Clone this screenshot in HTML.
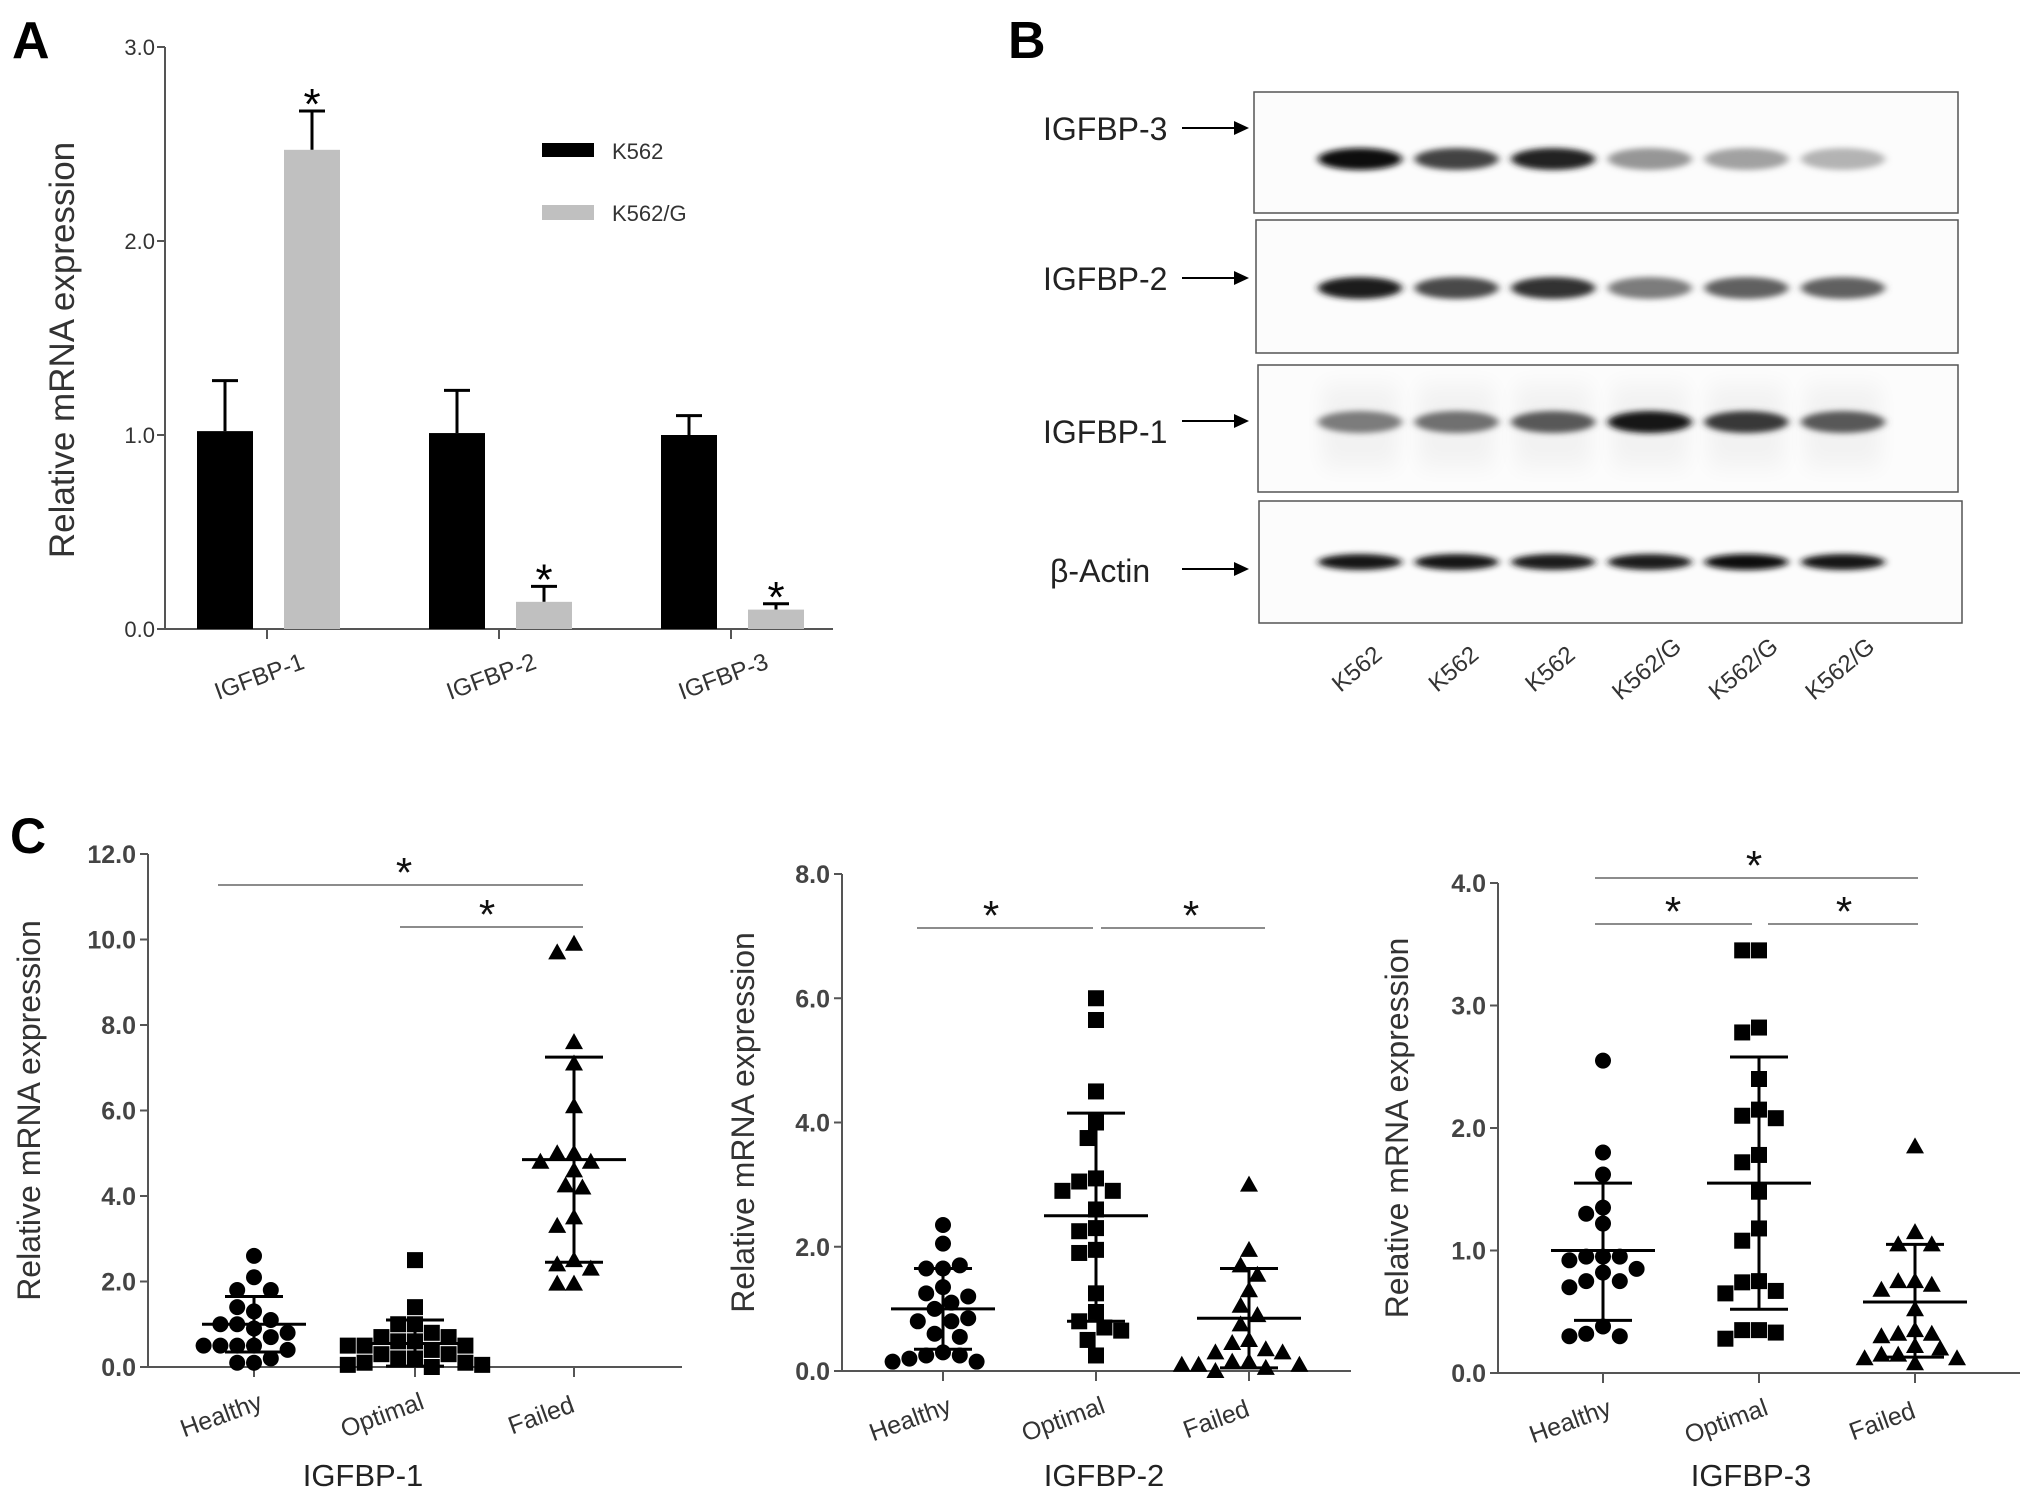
<!DOCTYPE html>
<html><head><meta charset="utf-8"><style>
html,body{margin:0;padding:0;background:#fff}
svg{display:block}
text{font-family:"Liberation Sans",Arial,sans-serif}
</style></head><body>
<svg id="fig" width="2031" height="1495" viewBox="0 0 2031 1495" xmlns="http://www.w3.org/2000/svg">
<defs>
<filter id="blur" x="-30%" y="-100%" width="160%" height="300%"><feGaussianBlur stdDeviation="4 3"/></filter>
<filter id="blur2" x="-30%" y="-100%" width="160%" height="300%"><feGaussianBlur stdDeviation="10 12"/></filter>
</defs>
<text x="12" y="58" font-size="52" font-weight="bold">A</text>
<text x="1008" y="58" font-size="52" font-weight="bold">B</text>
<text x="10" y="853" font-size="50" font-weight="bold">C</text>
<g id="pa"></g>
<g id="pb"></g>
<g id="pc1"></g>
<g id="pc2"></g>
<g id="pc3"></g>
</svg>
<script>
// ---------- Panel A data ----------
const aCategories = ["IGFBP-1","IGFBP-2","IGFBP-3"];
const aK562 = [1.02, 1.01, 1.0];
const aK562Err = [1.28, 1.23, 1.10];
const aK562G = [2.47, 0.14, 0.10];
const aK562GErr = [2.67, 0.22, 0.13];
const aTicks = ["0.0","1.0","2.0","3.0"];
const aSig = [true, true, true];

// ---------- Panel B data ----------
const bProteins = ["IGFBP-3","IGFBP-2","IGFBP-1","β-Actin"];
const bLanes = ["K562","K562","K562","K562/G","K562/G","K562/G"];
const bInt3 = [1.0, 0.75, 0.9, 0.38, 0.33, 0.25];
const bInt2 = [0.92, 0.72, 0.82, 0.5, 0.62, 0.62];
const bInt1 = [0.5, 0.55, 0.65, 0.95, 0.8, 0.65];
const bIntA = [0.95, 0.95, 0.93, 0.93, 0.98, 0.95];

// ---------- Panel C data ----------
const cGroups = ["Healthy","Optimal","Failed"];
const c1Healthy = [2.6,2.1,1.8,1.8,1.3,1.4,1.1,1.0,1.0,0.9,0.8,0.7,0.5,0.5,0.5,0.5,0.4,0.2,0.1,0.1];
const c1Optimal = [2.5,1.4,1.0,1.0,0.8,0.7,0.7,0.6,0.6,0.5,0.5,0.5,0.4,0.3,0.3,0.2,0.2,0.1,0.1,0.05,0.05,0.0];
const c1Failed = [9.9,9.7,7.6,7.1,6.1,5.0,5.0,4.8,4.8,4.6,4.25,4.2,3.5,3.3,2.5,2.4,2.3,1.95,1.95];
const c1Mean = [1.0,0.55,4.85];
const c1Hi = [1.65,1.1,7.25];
const c1Lo = [0.35,0.02,2.45];
const c1Ticks = ["0.0","2.0","4.0","6.0","8.0","10.0","12.0"];

const c2Healthy = [2.35,2.05,1.65,1.65,1.7,1.35,1.25,1.1,1.2,1.0,0.8,0.8,0.85,0.6,0.55,0.3,0.25,0.25,0.2,0.15,0.15];
const c2Optimal = [6.0,5.65,4.5,4.0,3.75,3.1,3.05,2.9,2.9,2.6,2.3,2.25,1.95,1.9,1.25,0.95,0.8,0.7,0.65,0.5,0.25];
const c2Failed = [3.0,1.95,1.7,1.55,1.3,1.05,0.9,0.75,0.5,0.45,0.35,0.3,0.3,0.15,0.15,0.1,0.1,0.1,0.05,0.0];
const c2Mean = [1.0,2.5,0.85];
const c2Hi = [1.65,4.15,1.65];
const c2Lo = [0.35,0.8,0.05];
const c2Ticks = ["0.0","2.0","4.0","6.0","8.0"];

const c3Healthy = [2.55,1.8,1.62,1.35,1.3,1.22,0.95,0.95,0.95,0.92,0.85,0.82,0.75,0.75,0.7,0.38,0.32,0.3,0.3];
const c3Optimal = [3.45,3.45,2.82,2.78,2.4,2.15,2.1,2.08,1.78,1.72,1.48,1.18,1.08,0.75,0.74,0.67,0.65,0.35,0.35,0.33,0.28];
const c3Failed = [1.85,1.15,1.05,1.05,0.75,0.75,0.72,0.68,0.52,0.35,0.32,0.32,0.3,0.22,0.2,0.15,0.15,0.12,0.12,0.08];
const c3Mean = [1.0,1.55,0.58];
const c3Hi = [1.55,2.58,1.05];
const c3Lo = [0.43,0.52,0.13];
const c3Ticks = ["0.0","1.0","2.0","3.0","4.0"];

const NS="http://www.w3.org/2000/svg";
function mk(parent, tag, attrs, txt){
  const e=document.createElementNS(NS,tag);
  for(const k in attrs) e.setAttribute(k, attrs[k]);
  if(txt!==undefined) e.textContent=txt;
  parent.appendChild(e); return e;
}

// ---------- Panel A ----------
(function(){
  const g=document.getElementById('pa');
  const x0=165, yTop=47, yBot=629, xEnd=833, vMax=3;
  const y=v=>yBot-(v/vMax)*(yBot-yTop);
  const groupCenter=i=>267+i*232;
  const ax=mk(g,'path',{d:`M${x0},${yTop} V${yBot} H${xEnd}`,stroke:'#555','stroke-width':2,fill:'none'});
  
  
  aTicks.forEach((t,i)=>{
    const v=parseFloat(t);
    const tk=mk(g,'line',{x1:x0-8,x2:x0,y1:y(v),y2:y(v),stroke:'#555','stroke-width':2});
    
    
    const tl=mk(g,'text',{x:x0-10,y:y(v)+8,'font-size':22,'text-anchor':'end',fill:'#333'},t);
    
    
  });
  aCategories.forEach((c,i)=>{
    const cx=groupCenter(i);
    const tk=mk(g,'line',{x1:cx,x2:cx,y1:yBot,y2:yBot+10,stroke:'#555','stroke-width':2});
    
    
    const tl=mk(g,'text',{x:cx-5,y:yBot+55,'font-size':24,'text-anchor':'middle',fill:'#333',transform:`rotate(-20 ${cx-5} ${yBot+55})`},c);
    
    
    const bw=56;
    const series=[[aK562[i],aK562Err[i],'#000',cx-70],[aK562G[i],aK562GErr[i],'#c0c0c0',cx+17]];
    series.forEach((s,j)=>{
      const [v,e,col,bx]=s;
      const err=mk(g,'path',{d:`M${bx+bw/2},${y(v)} V${y(e)} M${bx+bw/2-13},${y(e)} H${bx+bw/2+13}`,stroke:'#000','stroke-width':3,fill:'none'});
      
      
      const r=mk(g,'rect',{x:bx,y:y(v),width:bw,height:yBot-y(v),fill:col});
      
      
      if(j==1 && aSig[i]){
        const st=mk(g,'text',{x:bx+bw/2,y:y(e)+8,'font-size':44,'text-anchor':'middle',fill:'#000'},'*');
        
        
      }
    });
  });
  const yl=mk(g,'text',{x:0,y:0,'font-size':35,'text-anchor':'middle',fill:'#333',transform:`translate(74 350) rotate(-90)`},'Relative mRNA expression');
  
  
  const l1=mk(g,'rect',{x:542,y:143,width:52,height:14,fill:'#000'});
  
  
  const t1=mk(g,'text',{x:612,y:159,'font-size':22,fill:'#333'},'K562');
  
  
  const l2=mk(g,'rect',{x:542,y:205,width:52,height:15,fill:'#c0c0c0'});
  
  
  const t2=mk(g,'text',{x:612,y:221,'font-size':22,fill:'#333'},'K562/G');
  
  
})();

// ---------- Panel B ----------
(function(){
  const g=document.getElementById('pb');
  const boxes=[[1254,92,704,121],[1256,220,702,133],[1258,365,700,127],[1259,501,703,122]];
  const bandY=[159,288,422,562];
  const labelY=[140,290,443,582];
  const arrowY=[128,278,421,569];
  const ints=[bInt3,bInt2,bInt1,bIntA];
  const laneX=i=>1360+i*96.6;
  bProteins.forEach((p,k)=>{
    const [bx,by,bw,bh]=boxes[k];
    const box=mk(g,'rect',{x:bx,y:by,width:bw,height:bh,fill:'#fcfcfc',stroke:'#555','stroke-width':1.5});
    
    
    const lb=mk(g,'text',{x:k==3?1050:1043,y:labelY[k],'font-size':32,fill:'#222'},p);
    
    
    const ar=mk(g,'path',{d:`M1182,${arrowY[k]} H1236`,stroke:'#000','stroke-width':2});
    
    
    const ah=mk(g,'path',{d:`M1234,${arrowY[k]-7} L1249,${arrowY[k]} L1234,${arrowY[k]+7} Z`,fill:'#000'});
    
    
    ints[k].forEach((v,i)=>{
      const cx=laneX(i);
      if(k==2){
        const hz=mk(g,'rect',{x:cx-38,y:by+20,width:76,height:bh-45,fill:'#000',opacity:0.04,filter:'url(#blur2)'});
        
        
      }
      const gray=Math.round(235-225*v);
      const band=mk(g,'ellipse',{cx:cx,cy:bandY[k],rx:42,ry:k==3?8:11,fill:`rgb(${gray},${gray},${gray})`,filter:'url(#blur)'});
      
      
    });
  });
  bLanes.forEach((l,i)=>{
    const cx=laneX(i)+2, ty=675;
    const t=mk(g,'text',{x:cx,y:ty,'font-size':24,'text-anchor':'middle',fill:'#333',transform:`rotate(-40 ${cx} ${ty})`},l);
    
    
  });
})();

// ---------- Panel C ----------
function beeswarm(vals, yf, r){
  const placed=[]; const out=[];
  vals.forEach(v=>{
    const py=yf(v);
    let best=0;
    for(let k=0;k<40;k++){
      const off=(k%2==0?1:-1)*Math.ceil(k/2)*r*1.05;
      let ok=true;
      for(const p of placed){ if(Math.hypot(p[0]-off,p[1]-py)<2*r*0.98){ok=false;break;} }
      if(ok){best=off;break;}
    }
    placed.push([best,py]); out.push([best,py]);
  });
  return out;
}
function scatterPanel(id, cfg){
  const g=document.getElementById(id);
  const {x0,yTop,yBot,xEnd,vMax,ticks,centers,series,mean,hi,lo,sig,title,titleX,ylabX}=cfg;
  const y=v=>yBot-(v/vMax)*(yBot-yTop);
  const ax=mk(g,'path',{d:`M${x0},${yTop} V${yBot} H${xEnd}`,stroke:'#555','stroke-width':2,fill:'none'});
  
  
  ticks.forEach(t=>{
    const v=parseFloat(t);
    const tk=mk(g,'line',{x1:x0-8,x2:x0,y1:y(v),y2:y(v),stroke:'#555','stroke-width':2});
    
    
    const tl=mk(g,'text',{x:x0-12,y:y(v)+9,'font-size':25,'font-weight':'bold','text-anchor':'end',fill:'#444'},t);
    
    
  });
  cGroups.forEach((c,i)=>{
    const cx=centers[i];
    const tk=mk(g,'line',{x1:cx,x2:cx,y1:yBot,y2:yBot+10,stroke:'#555','stroke-width':2});
    
    
    const lx=cx-30, ly=yBot+56;
    const tl=mk(g,'text',{x:lx,y:ly,'font-size':25,'text-anchor':'middle',fill:'#333',transform:`rotate(-20 ${lx} ${ly})`},c);
    
    
    const pts=beeswarm(series[i],y,8);
    pts.forEach(p=>{
      let m;
      if(i==0) m=mk(g,'circle',{cx:cx+p[0],cy:p[1],r:8,fill:'#000'});
      else if(i==1) m=mk(g,'rect',{x:cx+p[0]-8,y:p[1]-8,width:16,height:16,fill:'#000'});
      else m=mk(g,'path',{d:`M${cx+p[0]},${p[1]-9} L${cx+p[0]+9},${p[1]+7} L${cx+p[0]-9},${p[1]+7} Z`,fill:'#000'});
      
      
    });
    const eb=mk(g,'path',{d:`M${cx-52},${y(mean[i])} H${cx+52} M${cx},${y(hi[i])} V${y(lo[i])} M${cx-29},${y(hi[i])} H${cx+29} M${cx-29},${y(lo[i])} H${cx+29}`,stroke:'#000','stroke-width':3,fill:'none'});
    
    
  });
  sig.forEach(s=>{
    const [xa,xb,v,sx]=s;
    const ln=mk(g,'line',{x1:xa,x2:xb,y1:v,y2:v,stroke:'#666','stroke-width':1.5});
    
    
    const st=mk(g,'text',{x:sx,y:v+2,'font-size':42,'text-anchor':'middle',fill:'#111'},'*');
    
    
  });
  const yl=mk(g,'text',{x:0,y:0,'font-size':32,'text-anchor':'middle',fill:'#333',transform:`translate(${ylabX} ${(yTop+yBot)/2}) rotate(-90)`},'Relative mRNA expression');
  
  
  const tt=mk(g,'text',{x:titleX,y:1486,'font-size':31,'text-anchor':'middle',fill:'#222'},title);
  
  
}
scatterPanel('pc1',{x0:148,yTop:854,yBot:1367,xEnd:682,vMax:12,ticks:c1Ticks,centers:[254,415,574],
  series:[c1Healthy,c1Optimal,c1Failed],mean:c1Mean,hi:c1Hi,lo:c1Lo,
  sig:[[218,583,885,404],[400,583,927,487]],title:'IGFBP-1',titleX:363,ylabX:40});
scatterPanel('pc2',{x0:842,yTop:874,yBot:1371,xEnd:1351,vMax:8,ticks:c2Ticks,centers:[943,1096,1249],
  series:[c2Healthy,c2Optimal,c2Failed],mean:c2Mean,hi:c2Hi,lo:c2Lo,
  sig:[[917,1093,928,991],[1101,1265,928,1191]],title:'IGFBP-2',titleX:1104,ylabX:754});
scatterPanel('pc3',{x0:1498,yTop:883,yBot:1373,xEnd:2020,vMax:4,ticks:c3Ticks,centers:[1603,1759,1915],
  series:[c3Healthy,c3Optimal,c3Failed],mean:c3Mean,hi:c3Hi,lo:c3Lo,
  sig:[[1595,1918,878,1754],[1595,1752,924,1673],[1768,1918,924,1844]],title:'IGFBP-3',titleX:1751,ylabX:1408});
</script>
</body></html>
